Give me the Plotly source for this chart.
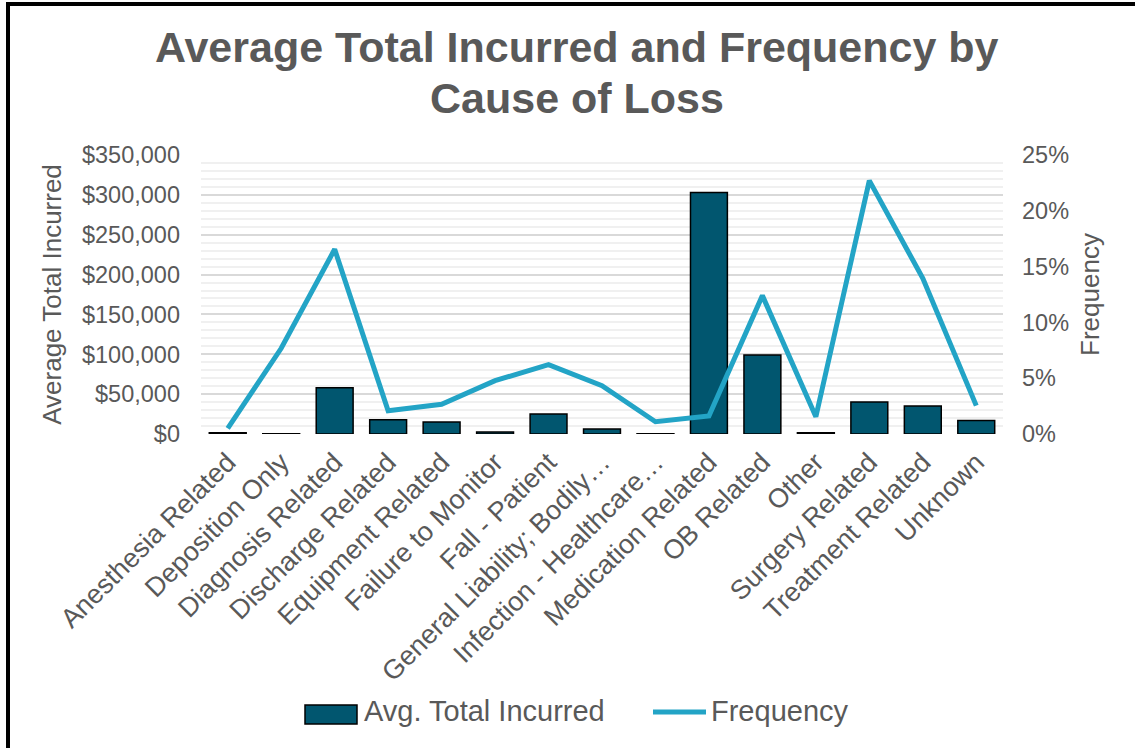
import plotly.graph_objects as go

# Cause-of-loss categories and their measures
causes = [
    "Anesthesia Related", "Deposition Only", "Diagnosis Related", "Discharge Related",
    "Equipment Related", "Failure to Monitor", "Fall - Patient",
    "General Liability; Bodily…", "Infection - Healthcare…", "Medication Related",
    "OB Related", "Other", "Surgery Related", "Treatment Related", "Unknown",
]
avg_total_incurred = [
    1500, 300, 58000, 18000, 15000, 2500, 25000, 6300,
    300, 303000, 99000, 1500, 40000, 35000, 17000,
]
frequency = [
    0.0051, 0.0768, 0.1655, 0.0209, 0.0266, 0.0478, 0.0621, 0.0433,
    0.0110, 0.0161, 0.1240, 0.0155, 0.2270, 0.1395, 0.0254,
]

W, H = 1135, 748
L, R, T, B = 201, 132, 155, 314
PW, PH = W - L - R, H - T - B

FONT = "Liberation Sans, Arial, sans-serif"
GREY = "#595959"
BAR = "#01566F"
LINE = "#23A4C6"


def px(x):
    return (x - L) / PW


def py(y):
    return (H - B - y) / PH


fig = go.Figure()
fig.add_trace(go.Bar(
    x=causes, y=avg_total_incurred, name="Avg. Total Incurred",
    marker=dict(color=BAR, line=dict(color="#000000", width=1.5)),
    yaxis="y",
))
fig.add_trace(go.Scatter(
    x=causes, y=frequency, name="Frequency", mode="lines",
    line=dict(color=LINE, width=5),
    yaxis="y2",
))

fig.update_layout(
    width=W, height=H,
    margin=dict(l=L, r=R, t=T, b=B),
    paper_bgcolor="white", plot_bgcolor="white",
    font=dict(family=FONT, color=GREY),
    showlegend=False,
    bargap=0.31,
    xaxis=dict(
        tickangle=-45, tickfont=dict(size=27, color=GREY),
        showgrid=False, showline=False, zeroline=False,
        ticks="", ticklabelstandoff=6,
    ),
    yaxis=dict(
        range=[0, 350000], dtick=50000, tickprefix="$", tickformat=",.0f",
        tickfont=dict(size=23.5, color=GREY),
        showgrid=True, gridcolor="#D9D9D9", gridwidth=2,
        minor=dict(dtick=10000, showgrid=True, gridcolor="#F0F0F0", gridwidth=2),
        zeroline=False, showline=False, ticks="", ticklabelstandoff=20,
        title=dict(text="Average Total Incurred", font=dict(size=26, color=GREY), standoff=12),
    ),
    yaxis2=dict(
        range=[0, 0.25], dtick=0.05, tickformat=".0%",
        overlaying="y", side="right",
        tickfont=dict(size=23.5, color=GREY),
        showgrid=False, zeroline=False, showline=False, ticks="", ticklabelstandoff=18,
        title=dict(text="Frequency", font=dict(size=26, color=GREY), standoff=12),
    ),
)

# Two-line chart title
fig.add_annotation(
    text="<b>Average Total Incurred and Frequency by</b>", xref="paper", yref="paper",
    x=px(577), y=py(47), xanchor="center", yanchor="middle", showarrow=False,
    font=dict(size=43, color=GREY, family=FONT),
)
fig.add_annotation(
    text="<b>Cause of Loss</b>", xref="paper", yref="paper",
    x=px(577), y=py(98), xanchor="center", yanchor="middle", showarrow=False,
    font=dict(size=43, color=GREY, family=FONT),
)

# Legend drawn beneath the category labels
fig.add_shape(type="rect", xref="paper", yref="paper",
              x0=px(305), x1=px(357), y0=py(705), y1=py(724),
              fillcolor=BAR, line=dict(color="#000000", width=1.5))
fig.add_annotation(text="Avg. Total Incurred", xref="paper", yref="paper",
                   x=px(362), y=py(711), xanchor="left", yanchor="middle",
                   showarrow=False, font=dict(size=29, color=GREY, family=FONT))
fig.add_shape(type="line", xref="paper", yref="paper",
              x0=px(653), x1=px(706), y0=py(712), y1=py(712),
              line=dict(color=LINE, width=5))
fig.add_annotation(text="Frequency", xref="paper", yref="paper",
                   x=px(709), y=py(711), xanchor="left", yanchor="middle",
                   showarrow=False, font=dict(size=29, color=GREY, family=FONT))

# Chart frame
fig.add_shape(type="rect", xref="paper", yref="paper",
              x0=px(8), x1=px(1150), y0=py(4), y1=py(760),
              line=dict(color="#000000", width=4), fillcolor="rgba(0,0,0,0)")

fig.write_html("out.html")
